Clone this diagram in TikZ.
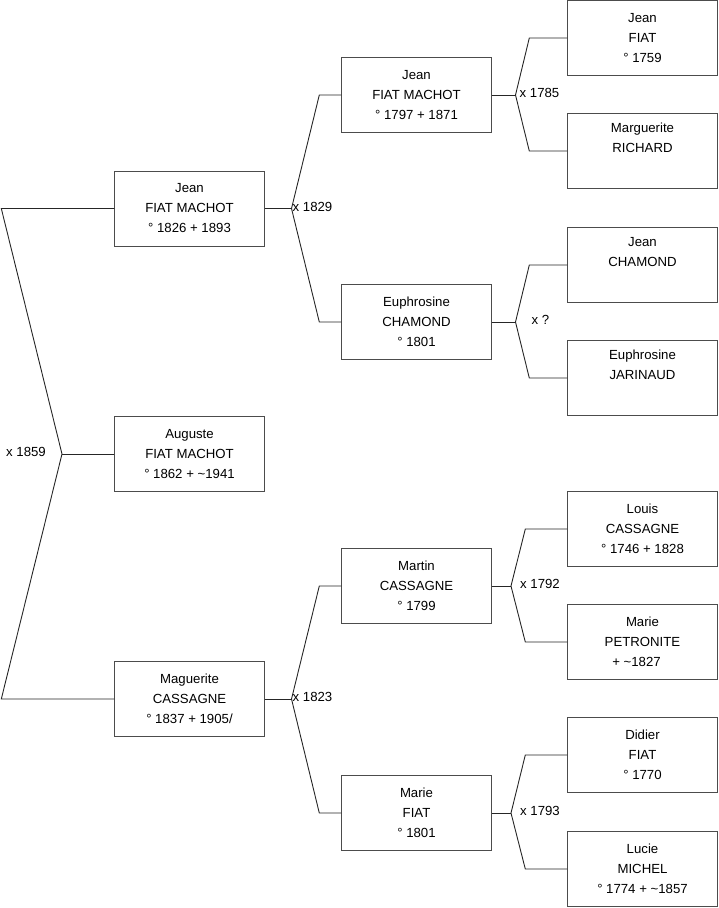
\documentclass[tikz,border=0pt]{standalone}
\usepackage{fontspec}
\setmainfont{Liberation Sans}
\newcommand\treefont{\fontsize{13.2}{20}\selectfont}
\begin{document}
\begin{tikzpicture}[x=1pt, y=-1pt,
    person/.style={draw=black!70, fill=white, minimum width=150, minimum height=75, inner sep=0pt, align=center, font=\treefont},
    mar/.style={font=\treefont, inner sep=1pt, yshift=2pt},
    link/.style={draw=black!85, line width=0.9pt}]
    \useasboundingbox (0,0) rectangle (719,908);
    % generation 1
    \node[person] (p1) at (189.5,208.5) {Jean\\FIAT MACHOT\\° 1826 + 1893};
    \node[person] (p2) at (189.5,454) {Auguste\\FIAT MACHOT\\° 1862 + \textasciitilde1941};
    \node[person] (p3) at (189.5,699) {Maguerite\\CASSAGNE\\° 1837 + 1905/};
    % generation 2
    \node[person] (f1) at (416.5,95) {Jean\\FIAT MACHOT\\° 1797 + 1871};
    \node[person] (f2) at (416.5,322) {Euphrosine\\CHAMOND\\° 1801};
    \node[person] (f3) at (416.5,586) {Martin\\CASSAGNE\\° 1799};
    \node[person] (f4) at (416.5,813) {Marie\\FIAT\\° 1801};
    % generation 3
    \node[person] (g1) at (642.5,38) {Jean\\FIAT\\° 1759};
    \node[person] (g2) at (642.5,151) {Marguerite\\RICHARD\\\strut};
    \node[person] (g3) at (642.5,265) {Jean\\CHAMOND\\\strut};
    \node[person] (g4) at (642.5,378) {Euphrosine\\JARINAUD\\\strut};
    \node[person] (g5) at (642.5,529) {Louis\\CASSAGNE\\° 1746 + 1828};
    \node[person] (g6) at (642.5,642) {Marie\\PETRONITE\\+ \textasciitilde1827\hspace*{12pt}};
    \node[person] (g7) at (642.5,755) {Didier\\FIAT\\° 1770};
    \node[person] (g8) at (642.5,869) {Lucie\\MICHEL\\° 1774 + \textasciitilde1857};
    % marriage points
    \coordinate (m0) at (62,454);
    \coordinate (m1) at (291.5,208.5);
    \coordinate (m2) at (291.5,699);
    \coordinate (m3) at (515.5,95);
    \coordinate (m4) at (515.5,322);
    \coordinate (m5) at (511,586);
    \coordinate (m6) at (511,813);
    % links
    \draw[link] (p1.west) -- ++(-113,0) -- (m0) -- ([xshift=-113]p3.west) -- (p3.west);
    \draw[link] (m0) -- (p2.west);
    \foreach \p/\m/\a/\b/\d in {p1/m1/f1/f2/22, p3/m2/f3/f4/22, f1/m3/g1/g2/38, f2/m4/g3/g4/38, f3/m5/g5/g6/42, f4/m6/g7/g8/42} {
        \draw[link] (\p.east) -- (\m);
        \draw[link] (\a.west) -- ++(-\d,0) -- (\m) -- ([xshift=-\d]\b.west) -- (\b.west);
    }
    % marriage years
    \node[mar, anchor=east] (x0) at (47,454) {x 1859};
    \node[mar, anchor=west] (x1) at (m1) {x 1829};
    \node[mar, anchor=west] (x2) at (m2) {x 1823};
    \node[mar, anchor=west] (x3) at ([xshift=3]m3) {x 1785};
    \node[mar, anchor=west] (x4) at ([xshift=15]m4) {x ?};
    \node[mar, anchor=west] (x5) at ([xshift=8]m5) {x 1792};
    \node[mar, anchor=west] (x6) at ([xshift=8]m6) {x 1793};
\end{tikzpicture}
\end{document}
